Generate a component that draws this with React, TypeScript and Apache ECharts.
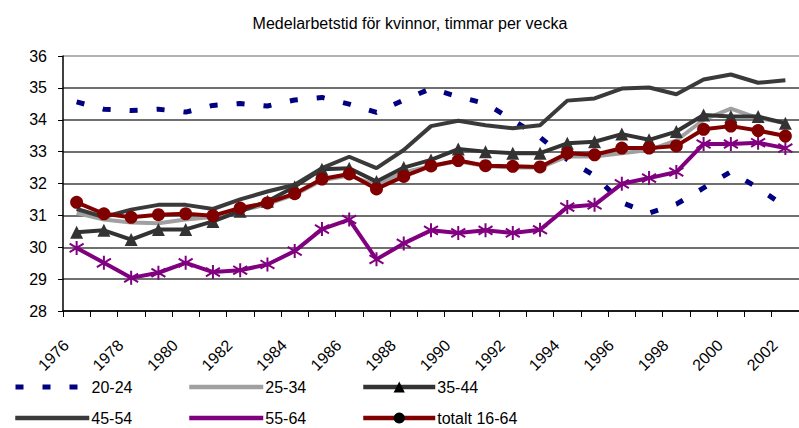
import React, { useEffect, useRef } from "react";
import * as echarts from "echarts";

const years = ["1976","1977","1978","1979","1980","1981","1982","1983","1984","1985","1986","1987","1988","1989","1990","1991","1992","1993","1994","1995","1996","1997","1998","1999","2000","2001","2002"];
const yTicks = [28, 29, 30, 31, 32, 33, 34, 35, 36];
const s2024 = [34.56,34.33,34.29,34.33,34.24,34.45,34.51,34.43,34.62,34.70,34.49,34.23,34.62,34.98,34.72,34.51,33.99,33.45,32.75,32.25,31.4,31.07,31.35,31.86,32.37,31.86,31.27];
const s2534 = [31.07,30.87,30.78,30.75,30.87,30.95,31.15,31.35,31.65,32.1,32.25,31.95,32.35,32.55,32.7,32.55,32.5,32.5,32.85,32.85,32.95,33.05,33.35,34.0,34.35,34.05,33.9];
const s3544 = [30.47,30.53,30.24,30.56,30.56,30.81,31.13,31.44,31.9,32.45,32.48,32.06,32.5,32.74,33.08,33.0,32.95,32.95,33.26,33.31,33.55,33.37,33.63,34.15,34.1,34.1,33.89];
const s4554 = [31.2,30.95,31.18,31.33,31.33,31.2,31.5,31.75,31.96,32.48,32.84,32.48,33.05,33.8,33.97,33.83,33.73,33.83,34.6,34.67,34.98,35.01,34.8,35.26,35.42,35.16,35.24];
const s5564 = [29.98,29.51,29.04,29.2,29.51,29.22,29.28,29.46,29.88,30.57,30.87,29.62,30.12,30.53,30.45,30.53,30.45,30.55,31.26,31.33,31.99,32.17,32.36,33.24,33.24,33.28,33.11];
const sTotal = [31.41,31.05,30.94,31.02,31.05,30.99,31.23,31.39,31.68,32.14,32.3,31.83,32.22,32.55,32.72,32.56,32.54,32.52,32.95,32.9,33.11,33.11,33.18,33.7,33.8,33.66,33.49];

const names = ["20-24", "25-34", "35-44", "45-54", "55-64", "totalt 16-64"];
const title = "Medelarbetstid för kvinnor, timmar per vecka";

const FONT = "Liberation Sans, Arial, sans-serif";
const ASTERISK = "path://M0,-10 L0,10 M-9,-6 L9,6 M-9,6 L9,-6";

export default function App() {
  const ref = useRef<HTMLDivElement>(null);
  useEffect(() => {
    if (!ref.current) return;
    const chart = echarts.init(ref.current, undefined, { renderer: "svg" });
    const legendPos = [
      { left: 13, top: 379, w: 74, noSym: true, lw: 5 },
      { left: 187, top: 379, w: 74, noSym: true, lw: 4.5 },
      { left: 361, top: 379, w: 72, noSym: false, lw: 4.5 },
      { left: 13, top: 410, w: 74, noSym: true, lw: 4.5 },
      { left: 187, top: 410, w: 74, noSym: false, lw: 4.5 },
      { left: 361, top: 410, w: 72, noSym: false, lw: 4.5 },
    ];
    const option: any = {
      animation: false,
      backgroundColor: "#fff",
      textStyle: { fontFamily: FONT },
      graphic: [
        {
          type: "text",
          x: 410,
          y: 23,
          style: {
            text: title,
            fontFamily: FONT,
            fontSize: 16,
            fill: "#000",
            align: "center",
            verticalAlign: "middle",
          },
        },
      ],
      legend: legendPos.map((p, i) => ({
        data: [names[i]],
        left: p.left,
        top: p.top,
        itemWidth: p.w,
        itemHeight: 14,
        itemGap: 0,
        padding: 0,
        itemStyle: p.noSym ? { opacity: 0 } : undefined,
        lineStyle: { width: p.lw },
        textStyle: { fontFamily: FONT, fontSize: 16, color: "#000", padding: [0, 0, 0, -3] },
      })),
      grid: { left: 63, top: 56, width: 737, height: 255, containLabel: false },
      xAxis: {
        type: "category",
        data: years,
        boundaryGap: true,
        axisLine: { lineStyle: { color: "#000", width: 1.5 } },
        axisTick: { show: true, interval: 0, length: 6, lineStyle: { color: "#000" } },
        axisLabel: {
          interval: 1,
          rotate: 45,
          margin: 21,
          formatter: (v: string) => "{a|" + v + "}{b|}",
          rich: {
            a: { fontFamily: FONT, fontSize: 16, color: "#000" },
            b: { width: 15 },
          },
          fontFamily: FONT,
          fontSize: 16,
          color: "#000",
        },
        splitLine: { show: false },
      },
      yAxis: {
        type: "value",
        min: yTicks[0],
        max: yTicks[yTicks.length - 1],
        interval: 1,
        axisLine: { show: true, lineStyle: { color: "#000", width: 1.5 } },
        axisTick: { show: true, length: 5, lineStyle: { color: "#000" } },
        axisLabel: { margin: 16, fontFamily: FONT, fontSize: 16, color: "#000" },
        splitLine: {
          lineStyle: {
            color: ["#404040", "#404040", "#404040", "#404040", "#404040", "#404040", "#404040", "#404040", "#999999"],
            width: 1.5,
          },
        },
      },
      series: [
        {
          name: names[0],
          type: "line",
          data: s2024,
          showSymbol: false,
          symbol: "none",
          lineStyle: { color: "#000080", width: 5, type: [8, 19], cap: "butt" },
          itemStyle: { color: "#000080" },
          z: 2,
        },
        {
          name: names[1],
          type: "line",
          data: s2534,
          symbol: "none",
          lineStyle: { color: "#a0a0a0", width: 4 },
          itemStyle: { color: "#a0a0a0" },
          z: 2,
        },
        {
          name: names[2],
          type: "line",
          data: s3544,
          symbol: "triangle",
          symbolSize: [13, 13],
          lineStyle: { color: "#333333", width: 4 },
          itemStyle: { color: "#333333" },
          z: 3,
        },
        {
          name: names[3],
          type: "line",
          data: s4554,
          symbol: "none",
          lineStyle: { color: "#3a3a3a", width: 4 },
          itemStyle: { color: "#3a3a3a" },
          z: 3,
        },
        {
          name: names[4],
          type: "line",
          data: s5564,
          symbol: ASTERISK,
          symbolSize: 14,
          lineStyle: { color: "#800080", width: 4 },
          itemStyle: { color: "#800080", borderColor: "#800080", borderWidth: 2 },
          z: 4,
        },
        {
          name: names[5],
          type: "line",
          data: sTotal,
          symbol: "circle",
          symbolSize: 13,
          lineStyle: { color: "#800000", width: 4 },
          itemStyle: { color: "#800000" },
          z: 5,
        },
      ],
    };
    chart.setOption(option);
    return () => chart.dispose();
  }, []);
  return (
    <div
      ref={ref}
      style={{ position: "fixed", left: 0, top: 0, width: 799, height: 428 }}
    />
  );
}
